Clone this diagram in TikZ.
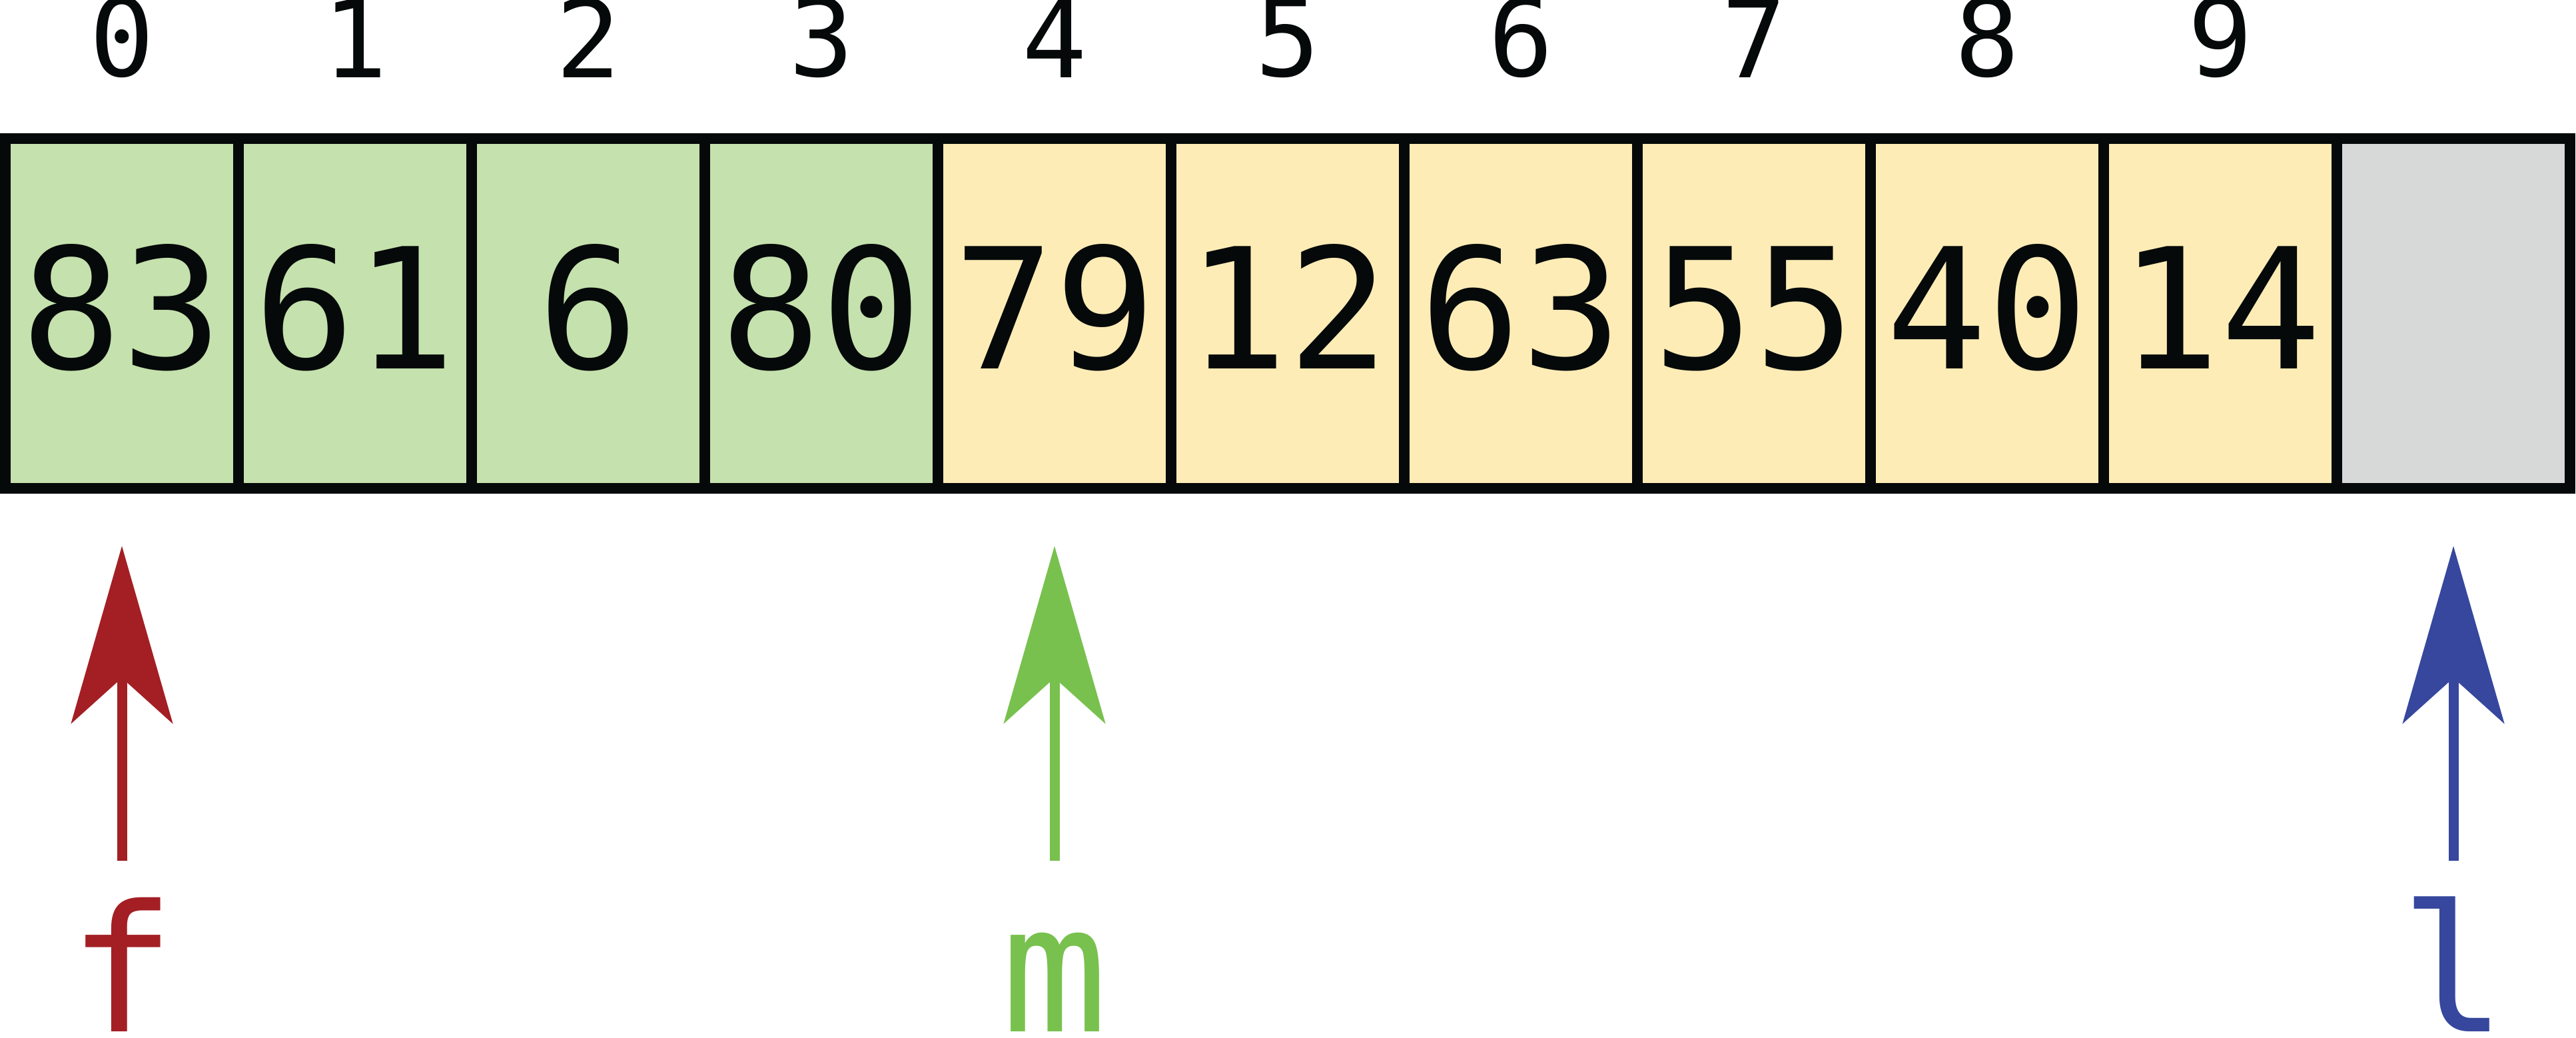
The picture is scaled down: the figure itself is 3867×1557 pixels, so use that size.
\documentclass[tikz,border=0pt]{standalone}
\usepackage{fontspec}
\usetikzlibrary{arrows.meta,positioning}

\newfontfamily\monofam{DejaVu Sans Mono}

\definecolor{inkblack}{HTML}{050909}
\definecolor{lowgreen}{HTML}{C5E1AD}
\definecolor{highyellow}{HTML}{FEECB6}
\definecolor{emptygray}{HTML}{D7D9D8}
\definecolor{firstred}{HTML}{A31F24}
\definecolor{midgreen}{HTML}{78C14E}
\definecolor{lastblue}{HTML}{36479D}

\tikzset{
	cell/.style={draw=inkblack, line width=1.6pt, minimum width=35pt, minimum height=52.5pt,
		inner sep=0pt, text height=18.4pt, text depth=1.8pt, text=inkblack,
		font=\monofam\fontsize{25.2}{30}\selectfont},
	index/.style={inner sep=0pt, text=inkblack, font=\monofam\fontsize{16.2}{19}\selectfont},
	pointer/.style={anchor=base, inner sep=0pt, text height=20pt, font=\monofam\fontsize{26.5}{31}\selectfont},
	pointerarrow/.style={line width=1.5pt, shorten <=5.4pt, shorten >=7.9pt,
		-{Stealth[length=26.6pt, width=15.2pt, inset=6.8pt]}}
}

\begin{document}
\begin{tikzpicture}[x=0.1pt, y=-0.1pt]
	\useasboundingbox (0,0) rectangle (3867,1557);
	
	\node[cell, fill=lowgreen] (c0) at (183, 470) {83};
	\node[cell, fill=lowgreen] (c1) at (533, 470) {61};
	\node[cell, fill=lowgreen] (c2) at (883, 470) {6};
	\node[cell, fill=lowgreen] (c3) at (1233, 470) {80};
	\node[cell, fill=highyellow] (c4) at (1583, 470) {79};
	\node[cell, fill=highyellow] (c5) at (1933, 470) {12};
	\node[cell, fill=highyellow] (c6) at (2283, 470) {63};
	\node[cell, fill=highyellow] (c7) at (2633, 470) {55};
	\node[cell, fill=highyellow] (c8) at (2983, 470) {40};
	\node[cell, fill=highyellow] (c9) at (3333, 470) {14};
	\node[cell, fill=emptygray] (c10) at (3683, 470) {};
	
	\node[index, above=8.1pt of c0] (i0) {0};
	\node[index, above=8.1pt of c1] (i1) {1};
	\node[index, above=8.1pt of c2] (i2) {2};
	\node[index, above=8.1pt of c3] (i3) {3};
	\node[index, above=8.1pt of c4] (i4) {4};
	\node[index, above=8.1pt of c5] (i5) {5};
	\node[index, above=8.1pt of c6] (i6) {6};
	\node[index, above=8.1pt of c7] (i7) {7};
	\node[index, above=8.1pt of c8] (i8) {8};
	\node[index, above=8.1pt of c9] (i9) {9};
	
	\node[pointer, text=firstred] (pf) at (183, 1548) {f};
	\node[pointer, text=midgreen] (pm) at (1583, 1548) {m};
	\node[pointer, text=lastblue] (pl) at (3683, 1548) {l};
	
	\draw[pointerarrow, firstred] (pf.north) -- (c0.south);
	\draw[pointerarrow, midgreen] (pm.north) -- (c4.south);
	\draw[pointerarrow, lastblue] (pl.north) -- (c10.south);
\end{tikzpicture}
\end{document}
